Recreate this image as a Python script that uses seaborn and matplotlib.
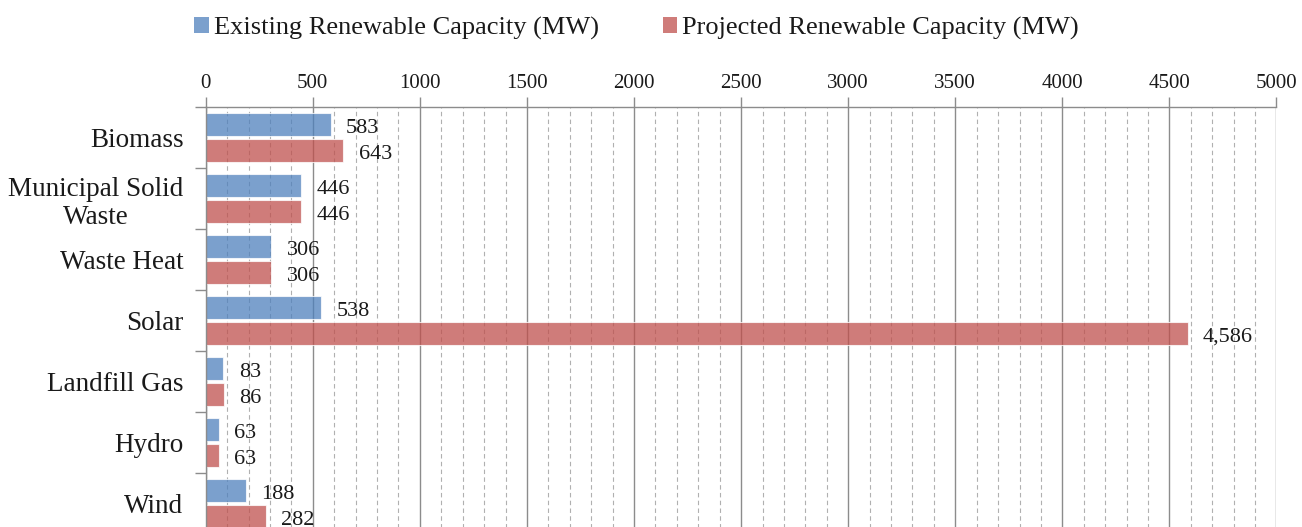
import matplotlib
matplotlib.use("Agg")
import matplotlib.pyplot as plt
import seaborn as sns
import pandas as pd
from matplotlib.patches import Patch
from matplotlib.ticker import MultipleLocator, FixedLocator

categories = ["Biomass", "Municipal Solid\nWaste", "Waste Heat", "Solar",
              "Landfill Gas", "Hydro", "Wind"]
existing = [583, 446, 306, 538, 83, 63, 188]
projected = [643, 446, 306, 4586, 86, 63, 282]
series_names = ["Existing Renewable Capacity (MW)", "Projected Renewable Capacity (MW)"]
x_ticks = [0, 500, 1000, 1500, 2000, 2500, 3000, 3500, 4000, 4500, 5000]

sns.set_theme(style="white")
plt.rcParams["font.family"] = ["Liberation Serif", "DejaVu Serif"]

df = pd.DataFrame({
    "category": categories * 2,
    "value": existing + projected,
    "series": [series_names[0]] * len(categories) + [series_names[1]] * len(categories),
})

blue = "#4F81BD"
red = "#C0504D"

fig = plt.figure(figsize=(13.02, 5.27), dpi=100)
ax = fig.add_axes([205.7 / 1302, -7 / 527, (1276.5 - 205.7) / 1302, 427 / 527])

sns.barplot(data=df, y="category", x="value", hue="series", orient="h",
            palette=[blue, red], saturation=1, width=0.84, gap=0.1, alpha=0.75,
            edgecolor="white", linewidth=0.8, ax=ax, legend=False, errorbar=None)

ax.set_xlim(0, 5000)
ax.set_ylim(6.5, -0.5)
ax.set_axisbelow(True)

ax.xaxis.tick_top()
ax.xaxis.set_major_locator(FixedLocator(x_ticks))
ax.xaxis.set_minor_locator(MultipleLocator(100))
ax.set_xticklabels([str(t) for t in x_ticks])
ax.grid(axis="x", which="major", color="#8C8C8C", linewidth=1.0, linestyle="-")
ax.grid(axis="x", which="minor", color="#B0B0B0", linewidth=0.8, linestyle=(0, (4, 3)))
ax.grid(axis="y", visible=False)

ax.tick_params(axis="x", which="major", top=True, bottom=False, length=7, width=1,
               color="#8C8C8C", labelsize=15, pad=3, labelcolor="#1a1a1a")
ax.tick_params(axis="x", which="minor", top=False, bottom=False)

ax.yaxis.set_minor_locator(FixedLocator([i + 0.5 for i in range(-1, 7)]))
ax.tick_params(axis="y", which="major", left=False, length=0, labelsize=19.5, pad=16,
               labelcolor="#1a1a1a")
ax.tick_params(axis="y", which="minor", left=True, length=8, width=1, color="#8C8C8C")
for lab in ax.get_yticklabels():
    lab.set_multialignment("center")

for side in ["right", "bottom"]:
    ax.spines[side].set_visible(False)
for side in ["top", "left"]:
    ax.spines[side].set_color("#8C8C8C")
    ax.spines[side].set_linewidth(1)

ax.set_xlabel("")
ax.set_ylabel("")

for cont in ax.containers:
    anns = ax.bar_label(cont, fmt="{:,.0f}", padding=10, fontsize=16, color="#1a1a1a")
    for a in anns:
        a.xyann = (11, -3)

handles = [Patch(facecolor=blue, alpha=0.75, edgecolor="none"),
           Patch(facecolor=red, alpha=0.75, edgecolor="none")]
fig.legend(handles, series_names, loc="center", bbox_to_anchor=(0.489, 0.946),
           ncol=2, frameon=False, fontsize=19, handlelength=0.55, handleheight=0.55,
           handletextpad=0.2, columnspacing=2.4, labelcolor="#1a1a1a")

fig.savefig("out.png", dpi=100)
